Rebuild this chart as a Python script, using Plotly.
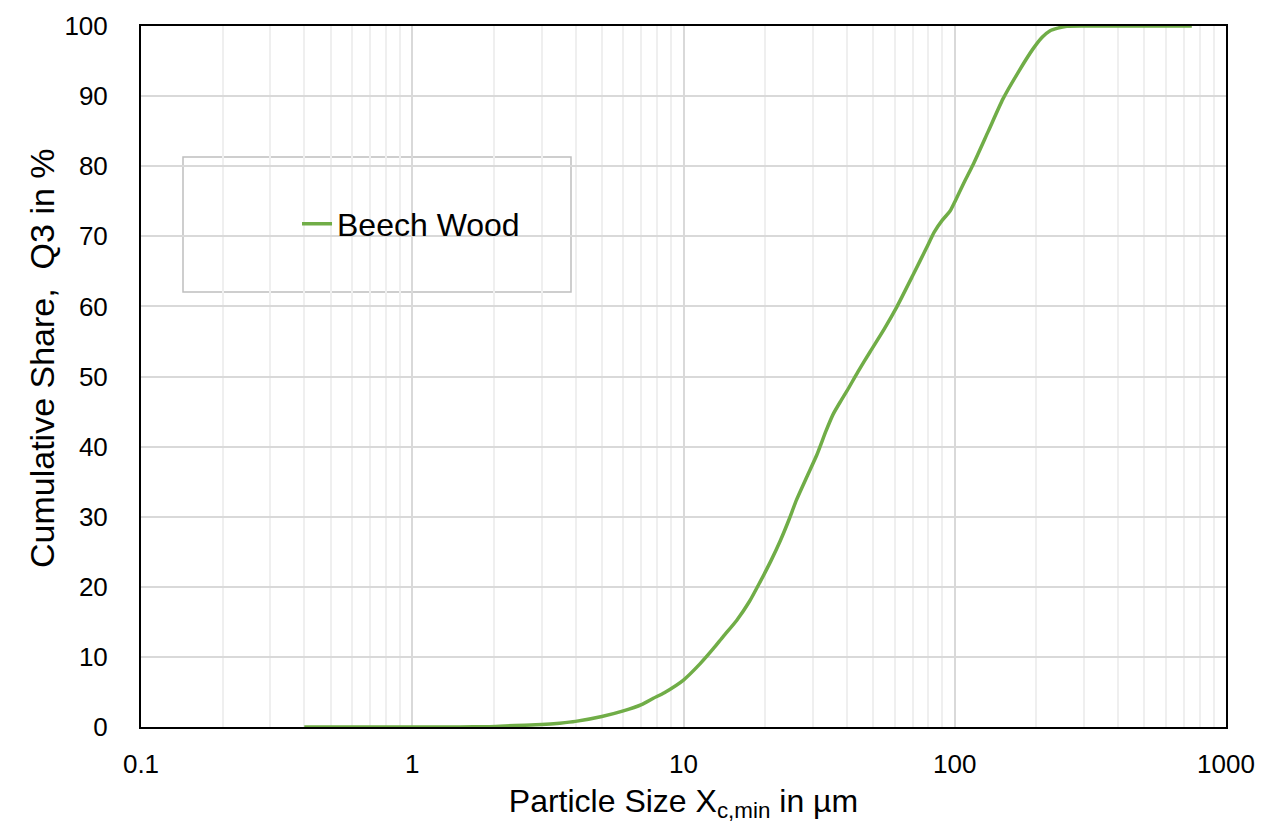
import plotly.graph_objects as go

particle_size_um = [0.4, 0.6, 1, 1.5, 1.9, 2.2, 2.6, 3, 3.5, 4, 5, 6, 7, 7.74, 8.5, 10, 11.5,
                    12.9, 14, 15.7, 17.5, 19.1, 21, 22.7, 24.5, 26.1, 28.5, 31, 33.5, 35.6, 38,
                    40, 44, 48.7, 55, 61.1, 70, 78.8, 84, 90, 96.1, 100, 108, 116.8, 133,
                    150.6, 172, 194, 210, 224, 240, 259, 300, 400, 500, 748]
cumulative_q3 = [0, 0, 0, 0, 0.05, 0.15, 0.25, 0.35, 0.55, 0.8, 1.5, 2.3, 3.2, 4.1, 4.9, 6.7, 9.0,
                 11.2, 12.9, 15.2, 17.9, 20.6, 23.7, 26.5, 29.6, 32.4, 35.7, 38.8, 42.2, 44.6, 46.5,
                 47.9, 50.7, 53.5, 56.8, 59.9, 64.4, 68.4, 70.6, 72.3, 73.6, 74.9, 77.6, 80.2, 85,
                 89.6, 93.5, 96.7, 98.4, 99.3, 99.7, 99.95, 100, 100, 100, 100]
series_name = "Beech Wood"
x_tick_vals = [0.1, 1, 10, 100, 1000]
x_tick_text = ["0.1", "1", "10", "100", "1000"]
y_title = "Cumulative Share,  Q3 in %"
x_title = "Particle Size X<sub>c,min</sub> in µm"

FONT = "Liberation Sans, Arial, sans-serif"

fig = go.Figure()
fig.add_trace(go.Scatter(
    x=particle_size_um, y=cumulative_q3, mode="lines", name=series_name,
    line=dict(color="#70AD47", width=3.5, shape="spline", smoothing=0.6),
))

fig.update_layout(
    width=1278, height=828,
    margin=dict(l=141, r=52, t=26, b=101),
    paper_bgcolor="white", plot_bgcolor="white",
    font=dict(family=FONT, size=26, color="black"),
    showlegend=True,
    legend=dict(x=0.1438, y=0.7175, xanchor="left", yanchor="middle",
                bgcolor="rgba(0,0,0,0)", borderwidth=0,
                font=dict(size=32, family=FONT, color="black")),
    shapes=[dict(type="rect", xref="paper", yref="paper",
                 x0=(183 - 141) / 1085, x1=(571 - 141) / 1085,
                 y0=(727 - 292) / 701, y1=(727 - 157) / 701,
                 line=dict(color="#bfbfbf", width=1.5), fillcolor="white", layer="below")],
    annotations=[dict(text=y_title, xref="paper", yref="paper",
                      x=(42 - 141) / 1085, y=(727 - 358) / 701,
                      xanchor="center", yanchor="middle", textangle=-90, showarrow=False,
                      font=dict(size=34, family=FONT, color="black"))],
)

fig.update_xaxes(
    type="log", range=[-1, 3],
    tickvals=x_tick_vals, ticktext=x_tick_text,
    showgrid=True, gridcolor="#d9d9d9", gridwidth=1.5,
    minor=dict(dtick="D1", showgrid=True, gridcolor="#efefef", gridwidth=1.5, ticks=""),
    showline=True, linecolor="black", linewidth=2, mirror=True,
    ticks="", ticklabelstandoff=13,
    tickfont=dict(size=26, family=FONT),
    title=dict(text=x_title, font=dict(size=32, family=FONT), standoff=11),
    zeroline=False,
)
fig.update_yaxes(
    range=[0, 100], dtick=10,
    showgrid=True, gridcolor="#d9d9d9", gridwidth=1.5,
    showline=True, linecolor="black", linewidth=2, mirror=True,
    ticks="", ticklabelstandoff=26,
    tickfont=dict(size=26, family=FONT),
    zeroline=False,
)

fig.write_html("out.html")
